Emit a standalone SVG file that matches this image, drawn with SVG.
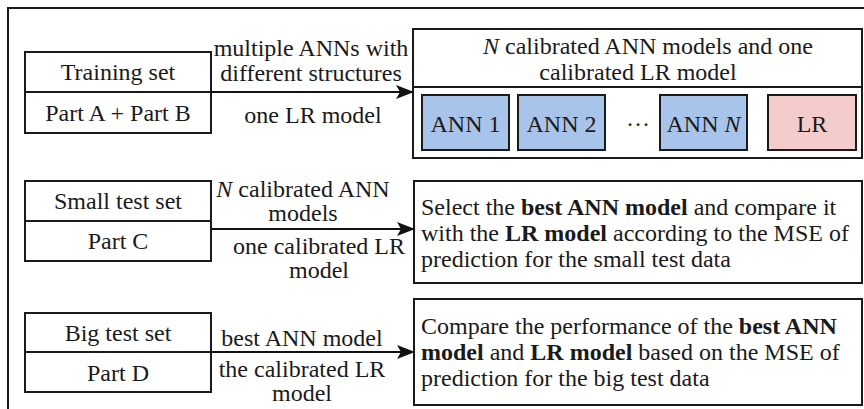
<svg xmlns="http://www.w3.org/2000/svg" width="864" height="409" viewBox="0 0 864 409">
  <defs>
    <marker id="arrow" viewBox="0 0 18 14" refX="17" refY="7" markerWidth="18" markerHeight="14" markerUnits="userSpaceOnUse" orient="auto">
      <path d="M0,0 L18,7 L0,14 L4,7 Z" fill="#111"/>
    </marker>
    <style>
      text { font-family: 'Liberation Serif', serif; font-size: 24px; fill: #1a1a1a; }
      .c { text-anchor: middle; }
      .box { fill: #fff; stroke: #1a1a1a; stroke-width: 2; }
      .ann { fill: #a9c4eb; stroke: #1a1a1a; stroke-width: 2; }
      .lr { fill: #f4cccc; stroke: #1a1a1a; stroke-width: 2; }
      .line { stroke: #1a1a1a; stroke-width: 2; fill: none; }
      .conn { stroke: #111; stroke-width: 2; fill: none; marker-end: url(#arrow); }
      .b { font-weight: bold; }
      .i { font-style: italic; }
    </style>
  </defs>

  <rect x="0" y="0" width="864" height="409" fill="#fff"/>
  <!-- outer frame, running past the right and bottom edges -->
  <rect x="8" y="8" width="900" height="450" fill="none" stroke="#1a1a1a" stroke-width="2"/>

  <!-- data sets -->
  <g id="training-set">
    <rect class="box" x="25" y="52" width="186" height="81"/>
    <line class="line" x1="25" y1="92" x2="211" y2="92"/>
    <text class="c" x="118" y="80">Training set</text>
    <text class="c" x="118" y="121">Part A + Part B</text>
  </g>
  <g id="small-test-set">
    <rect class="box" x="25" y="181" width="186" height="80"/>
    <line class="line" x1="25" y1="221" x2="211" y2="221"/>
    <text class="c" x="118" y="209">Small test set</text>
    <text class="c" x="118" y="249">Part C</text>
  </g>
  <g id="big-test-set">
    <rect class="box" x="25" y="313" width="186" height="79"/>
    <line class="line" x1="25" y1="352" x2="211" y2="352"/>
    <text class="c" x="118" y="341">Big test set</text>
    <text class="c" x="118" y="381">Part D</text>
  </g>

  <!-- calibrated models -->
  <g id="calibrated-models">
    <rect class="box" x="413" y="29" width="449" height="129"/>
    <line class="line" x1="413" y1="87" x2="862" y2="87"/>
    <text class="c" x="648" y="54"><tspan class="i">N</tspan> calibrated ANN models and one</text>
    <text class="c" x="638" y="80">calibrated LR model</text>
  </g>
  <g id="ann-1">
    <rect class="ann" x="422" y="95" width="87" height="55"/>
    <text class="c" x="465.5" y="132">ANN 1</text>
  </g>
  <g id="ann-2">
    <rect class="ann" x="518" y="95" width="87" height="55"/>
    <text class="c" x="561.5" y="132">ANN 2</text>
  </g>
  <text class="c" x="638" y="132">&#183;&#183;&#183;</text>
  <g id="ann-n">
    <rect class="ann" x="660" y="95" width="87" height="55"/>
    <text class="c" x="703.5" y="132">ANN <tspan class="i">N</tspan></text>
  </g>
  <g id="lr">
    <rect class="lr" x="768" y="95" width="88" height="55"/>
    <text class="c" x="812" y="132">LR</text>
  </g>

  <!-- evaluation steps -->
  <g id="select-best">
    <rect class="box" x="414" y="181" width="448" height="102"/>
    <text x="421" y="215">Select the <tspan class="b">best ANN model</tspan>  and compare it</text>
    <text x="421" y="241">with the <tspan class="b">LR model</tspan> according to the MSE of</text>
    <text x="421" y="267">prediction for the small test data</text>
  </g>
  <g id="compare-big">
    <rect class="box" x="414" y="299" width="448" height="106"/>
    <text x="421" y="334">Compare the performance of the <tspan class="b">best ANN</tspan></text>
    <text x="421" y="360"><tspan class="b">model</tspan> and <tspan class="b">LR model</tspan> based on the MSE of</text>
    <text x="421" y="386">prediction for the big test data</text>
  </g>

  <!-- connectors and their labels -->
  <g id="connectors">
    <line class="conn" x1="211" y1="92" x2="413" y2="92"/>
    <line class="conn" x1="211" y1="229" x2="414" y2="229"/>
    <line class="conn" x1="211" y1="352" x2="414" y2="352"/>

    <text class="c" x="311" y="56">multiple ANNs with</text>
    <text class="c" x="311" y="81">different structures</text>
    <text class="c" x="313" y="123">one LR model</text>

    <text class="c" x="303" y="197"><tspan class="i">N</tspan> calibrated ANN</text>
    <text class="c" x="303" y="221">models</text>
    <text class="c" x="319" y="254">one calibrated LR</text>
    <text class="c" x="319" y="278">model</text>

    <text class="c" x="302" y="346">best ANN model</text>
    <text class="c" x="302" y="377">the calibrated LR</text>
    <text class="c" x="302" y="401">model</text>
  </g>
</svg>
